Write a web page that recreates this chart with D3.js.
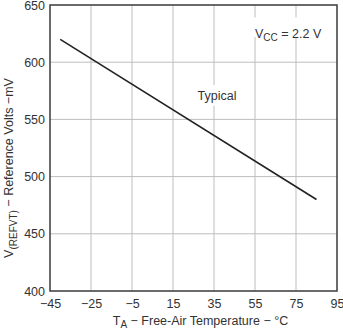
<!DOCTYPE html>
<html><head><meta charset="utf-8">
<script src="https://cdn.jsdelivr.net/npm/d3@7/dist/d3.min.js"></script>
<style>body{margin:0;background:#fff}svg{display:block;font-family:"Liberation Sans",Arial,sans-serif}</style>
</head><body><svg id="c" width="343" height="329"></svg>
<script>
const temps = [-40, 85];
const volts = [620, 480];
const xTicks = [-45, -25, -5, 15, 35, 55, 75, 95];
const yTicks = [400, 450, 500, 550, 600, 650];

const svg = d3.select("#c");
const m = {l: 50, r: 6, t: 5, b: 38};
const W = 343, H = 329;
const x = d3.scaleLinear().domain([-45, 95]).range([m.l, W - m.r]);
const y = d3.scaleLinear().domain([400, 650]).range([H - m.b, m.t]);

// grid
svg.append("g").selectAll("line").data(xTicks.slice(1, -1)).join("line")
  .attr("x1", d => x(d)).attr("x2", d => x(d)).attr("y1", y(400)).attr("y2", y(650))
  .attr("stroke", "#bdbdbd").attr("stroke-width", 1);
svg.append("g").selectAll("line").data(yTicks.slice(1, -1)).join("line")
  .attr("y1", d => y(d)).attr("y2", d => y(d)).attr("x1", x(-45)).attr("x2", x(95))
  .attr("stroke", "#bdbdbd").attr("stroke-width", 1);

// label backgrounds
svg.append("rect").attr("x", x(25)).attr("y", y(580)).attr("width", x(48) - x(25)).attr("height", y(562) - y(580)).attr("fill", "#fff");
svg.append("rect").attr("x", x(52.5)).attr("y", y(639)).attr("width", x(89) - x(52.5)).attr("height", y(622) - y(639)).attr("fill", "#fff");

// axes (ticks labels via d3 axis)
const xa = svg.append("g").attr("transform", `translate(0,${y(400)})`)
  .call(d3.axisBottom(x).tickValues(xTicks).tickSize(0).tickPadding(8).tickFormat(d => d < 0 ? "\u2212" + Math.abs(d) : d));
const ya = svg.append("g").attr("transform", `translate(${x(-45)},0)`)
  .call(d3.axisLeft(y).tickValues(yTicks).tickSize(0).tickPadding(5));
[xa, ya].forEach(a => {
  a.select(".domain").remove();
  a.selectAll("text").attr("font-size", 12.5).attr("fill", "#333").attr("font-family", "Liberation Sans, Arial, sans-serif");
});

// frame
svg.append("rect").attr("x", x(-45)).attr("y", y(650)).attr("width", x(95) - x(-45)).attr("height", y(400) - y(650))
  .attr("fill", "none").attr("stroke", "#3a3a3a").attr("stroke-width", 1.5);

// data line
const pts = temps.map((t, i) => [t, volts[i]]);
svg.append("path").datum(pts).attr("d", d3.line().x(d => x(d[0])).y(d => y(d[1])))
  .attr("fill", "none").attr("stroke", "#222").attr("stroke-width", 1.6);

// annotations
svg.append("text").attr("x", x(27)).attr("y", y(567)).attr("font-size", 12.5).attr("fill", "#333").text("Typical");
const vt = svg.append("text").attr("x", x(55)).attr("y", y(621)).attr("font-size", 12.5).attr("fill", "#333");
vt.append("tspan").text("V");
vt.append("tspan").attr("font-size", 10).attr("dy", 2.5).text("CC");
vt.append("tspan").attr("dy", -2.5).text(" = 2.2 V");

// axis titles
const xt = svg.append("text").attr("x", (x(-45) + x(95)) / 2 + 7).attr("y", 325).attr("text-anchor", "middle").attr("font-size", 12.5).attr("fill", "#333");
xt.append("tspan").text("T");
xt.append("tspan").attr("font-size", 10).attr("dy", 3).text("A");
xt.append("tspan").attr("dy", -3).text(" \u2212 Free-Air Temperature \u2212 \u00b0C");

const yt = svg.append("text").attr("transform", `translate(13,${(y(400) + y(650)) / 2 + 20}) rotate(-90)`).attr("text-anchor", "middle").attr("font-size", 12.5).attr("fill", "#333");
yt.append("tspan").text("V");
yt.append("tspan").attr("font-size", 10).attr("dy", 4).text("(REFVT)");
yt.append("tspan").attr("dy", -4).text(" \u2212 Reference Volts \u2212mV");
</script></body></html>
